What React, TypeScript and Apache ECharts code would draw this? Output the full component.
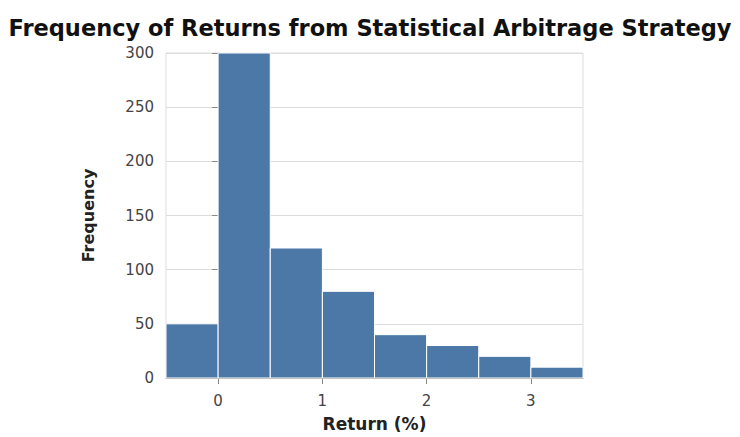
import React, { useEffect, useRef } from "react";
import * as echarts from "echarts";

const binStarts = [-0.5, 0, 0.5, 1, 1.5, 2, 2.5, 3];
const binWidth = 0.5;
const counts = [50, 300, 120, 80, 40, 30, 20, 10];
const xTicks = [0, 1, 2, 3];
const titleText = "Frequency of Returns from Statistical Arbitrage Strategy";

export default function App() {
  const ref = useRef<HTMLDivElement>(null);
  useEffect(() => {
    if (!ref.current) return;
    const chart = echarts.init(ref.current, undefined, { renderer: "svg" });
    const font = "DejaVu Sans";
    chart.setOption({
      animation: false,
      backgroundColor: "#fff",
      title: {
        text: titleText,
        left: "center",
        top: 11,
        textStyle: { fontFamily: font, fontSize: 22.5, fontWeight: "bold", color: "#111" },
      },
      grid: {
        left: 166,
        width: 417,
        top: 53,
        height: 329,
        show: true,
        borderColor: "#ddd",
        borderWidth: 1,
      },
      xAxis: {
        type: "value",
        min: -0.5,
        max: 3.5,
        name: "Return (%)",
        nameLocation: "middle",
        nameGap: 37,
        nameTextStyle: { fontFamily: font, fontSize: 17, fontWeight: "bold", color: "#222" },
        axisLine: { show: true, lineStyle: { color: "#888", width: 1 } },
        axisTick: { show: true, customValues: xTicks, length: 6, lineStyle: { color: "#888" } },
        axisLabel: { customValues: xTicks, fontFamily: font, fontSize: 15, color: "#444", margin: 15 },
        splitLine: { show: false },
      },
      yAxis: {
        type: "value",
        min: 0,
        max: 300,
        interval: 50,
        name: "Frequency",
        nameLocation: "middle",
        nameGap: 70,
        nameRotate: 90,
        nameTextStyle: { fontFamily: font, fontSize: 16, fontWeight: "bold", color: "#222" },
        axisLine: { show: true, lineStyle: { color: "#888", width: 1 } },
        axisTick: { show: true, length: 6, lineStyle: { color: "#888" } },
        axisLabel: { fontFamily: font, fontSize: 15, color: "#444", margin: 12 },
        splitLine: { show: true, lineStyle: { color: "#ddd" } },
      },
      series: [
        {
          type: "custom",
          data: binStarts.map((s, i) => [s, s + binWidth, counts[i]]),
          encode: { x: [0, 1], y: 2 },
          renderItem: (params: any, api: any) => {
            const p0 = api.coord([api.value(0), 0]);
            const p1 = api.coord([api.value(1), api.value(2)]);
            return {
              type: "rect",
              shape: { x: p0[0], y: p1[1], width: p1[0] - p0[0], height: p0[1] - p1[1] },
              style: { fill: "#4c78a8", stroke: "#fff", lineWidth: 1 },
            };
          },
        },
      ],
    });
    return () => chart.dispose();
  }, []);
  return <div ref={ref} style={{ width: 740, height: 437, position: "absolute", left: 0, top: 0 }} />;
}
